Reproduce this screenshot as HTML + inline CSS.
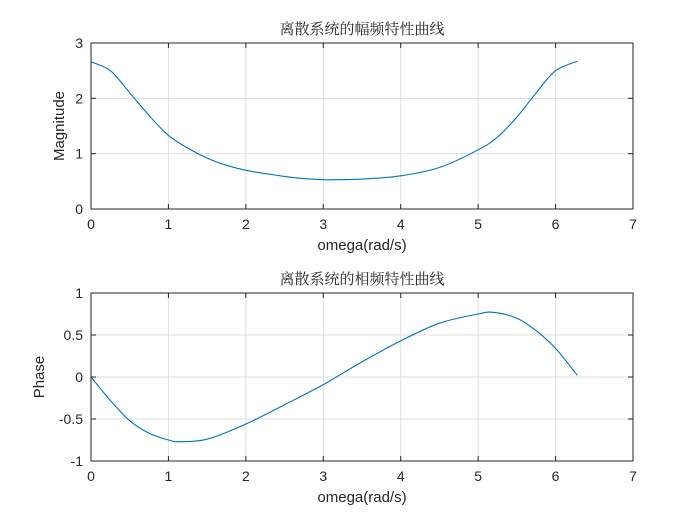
<!DOCTYPE html>
<html><head><meta charset="utf-8"><style>
body{margin:0;background:#fff;}
svg text{font-family:"Liberation Sans","Noto Sans CJK SC",sans-serif;fill:#262626;}
svg text.ti{font-family:"Liberation Serif","Noto Serif CJK SC",serif;}
</style></head><body>
<svg id="chart" width="700" height="525">
<rect width="700" height="525" fill="#fff"/>
<g id="top"></g>
<g id="bot"></g>
</svg>
<script>
const xTicks=[0,1,2,3,4,5,6,7];
const magTicks=[0,1,2,3];
const phaseTicks=[-1,-0.5,0,0.5,1];
const magW=[0,0.25,0.5,0.75,1,1.25,1.5,1.75,2,2.25,2.5,2.75,3,3.14,3.5,4,4.5,5,5.25,5.5,5.75,6,6.28];
const magV=[2.66,2.5,2.1,1.69,1.33,1.1,0.92,0.79,0.7,0.64,0.59,0.55,0.53,0.53,0.54,0.6,0.75,1.07,1.3,1.66,2.1,2.5,2.67];
const phW=[0,0.25,0.5,0.75,1,1.15,1.5,2,2.5,3,3.5,4,4.5,5,5.2,5.5,5.75,6,6.28];
const phV=[0,-0.28,-0.52,-0.67,-0.75,-0.77,-0.74,-0.56,-0.33,-0.09,0.18,0.43,0.64,0.75,0.77,0.70,0.55,0.34,0.02];
const NS='http://www.w3.org/2000/svg';
function mk(p,t,a){const e=document.createElementNS(NS,t);for(const k in a)e.setAttribute(k,a[k]);p.appendChild(e);return e;}
function smooth(P){let d='M'+P[0][0].toFixed(1)+','+P[0][1].toFixed(1);
  for(let i=0;i<P.length-1;i++){const p0=P[i-1]||P[i],p1=P[i],p2=P[i+1],p3=P[i+2]||P[i+1];
    const c1=[p1[0]+(p2[0]-p0[0])/6,p1[1]+(p2[1]-p0[1])/6],c2=[p2[0]-(p3[0]-p1[0])/6,p2[1]-(p3[1]-p1[1])/6];
    d+=`C${c1[0].toFixed(1)},${c1[1].toFixed(1)} ${c2[0].toFixed(1)},${c2[1].toFixed(1)} ${p2[0].toFixed(1)},${p2[1].toFixed(1)}`;}
  return d;}
function panel(g,top,bottom,ymin,ymax,yt,wArr,vArr,title,ylab,prefix,ylx){
  const L=91,R=633;
  const sx=v=>L+(R-L)*v/7, sy=v=>bottom-(bottom-top)*(v-ymin)/(ymax-ymin);
  xTicks.forEach(t=>{const l=mk(g,'line',{x1:sx(t),x2:sx(t),y1:top,y2:bottom,stroke:'#dfdfdf','stroke-width':1});
    });
  yt.forEach(t=>{const l=mk(g,'line',{x1:L,x2:R,y1:sy(t),y2:sy(t),stroke:'#dfdfdf','stroke-width':1});
    });
  const P=wArr.map((w,i)=>[sx(w),sy(vArr[i])]);
  const pl=mk(g,'path',{d:smooth(P),fill:'none',stroke:'#0072bd','stroke-width':1.1});
  
  const box=mk(g,'rect',{x:L,y:top,width:R-L,height:bottom-top,fill:'none',stroke:'#262626','stroke-width':1});
  
  xTicks.forEach(t=>{mk(g,'line',{x1:sx(t),x2:sx(t),y1:bottom,y2:bottom-5,stroke:'#262626'});mk(g,'line',{x1:sx(t),x2:sx(t),y1:top,y2:top+5,stroke:'#262626'});
    const tx=mk(g,'text',{x:sx(t),y:bottom+20,'text-anchor':'middle','font-size':14});tx.textContent=t;
    });
  yt.forEach(t=>{mk(g,'line',{x1:L,x2:L+5,y1:sy(t),y2:sy(t),stroke:'#262626'});mk(g,'line',{x1:R,x2:R-5,y1:sy(t),y2:sy(t),stroke:'#262626'});
    const tx=mk(g,'text',{x:L-8,y:sy(t)+5,'text-anchor':'end','font-size':14});tx.textContent=t;
    });
  const xl=mk(g,'text',{x:(L+R)/2,y:bottom+41,'text-anchor':'middle','font-size':15});xl.textContent='omega(rad/s)';
  
  const yl=mk(g,'text',{x:0,y:0,'text-anchor':'middle','font-size':15,transform:`translate(${ylx},${(top+bottom)/2}) rotate(-90)`});yl.textContent=ylab;
  
  const ti=mk(g,'text',{x:(L+R)/2,y:top-9,'text-anchor':'middle','font-size':15,'class':'ti'});ti.textContent=title;
  
}
panel(document.getElementById('top'),43,209,0,3,magTicks,magW,magV,'离散系统的幅频特性曲线','Magnitude','magnitude',64);
panel(document.getElementById('bot'),293,461,-1,1,phaseTicks,phW,phV,'离散系统的相频特性曲线','Phase','phase',44);
</script>
</body></html>
